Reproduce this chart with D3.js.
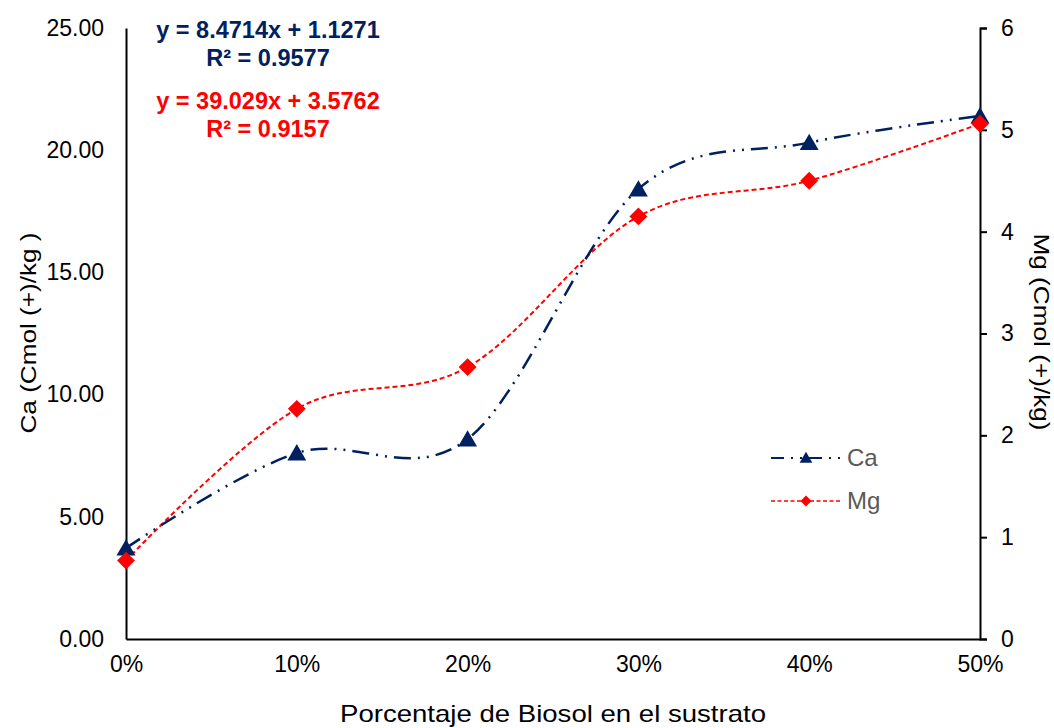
<!DOCTYPE html>
<html>
<head>
<meta charset="utf-8">
<script src="https://cdn.jsdelivr.net/npm/d3@7"></script>
<style>
  body { margin: 0; background: #fff; }
  text { font-family: "Liberation Sans", Arial, sans-serif; }
</style>
</head>
<body>
<div id="chart"></div>
<script>
const width = 1054,
  height = 728;

// data
const pct = [0, 10, 20, 30, 40, 50];
const ca = [3.72, 7.61, 8.18, 18.41, 20.31, 21.4];
const mg = [0.77, 2.26, 2.67, 4.15, 4.5, 5.06];
const leftTicks = [0, 5, 10, 15, 20, 25];
const rightTicks = [0, 1, 2, 3, 4, 5, 6];
const eqNavy = ["y = 8.4714x + 1.1271", "R² = 0.9577"];
const eqRed = ["y = 39.029x + 3.5762", "R² = 0.9157"];

const navy = "#002060",
  red = "#ff0000";

const margin = { left: 126, right: 74, top: 28, bottom: 89 };

const svg = d3.select("#chart").append("svg").attr("width", width).attr("height", height);

const x = d3.scaleLinear().domain([0, 50]).range([margin.left, width - margin.right]);
const yL = d3.scaleLinear().domain([0, 25]).range([height - margin.bottom, margin.top]);
const yR = d3.scaleLinear().domain([0, 6]).range([height - margin.bottom, margin.top]);

// axes
const gx = svg
  .append("g")
  .attr("transform", `translate(0,${height - margin.bottom})`)
  .call(d3.axisBottom(x).tickValues(pct).tickSize(0).tickPadding(17).tickFormat(d => d + "%"));

const gl = svg
  .append("g")
  .attr("transform", `translate(${margin.left},0)`)
  .call(d3.axisLeft(yL).tickValues(leftTicks).tickSize(0).tickPadding(22).tickFormat(d3.format(".2f")));

const gr = svg
  .append("g")
  .attr("transform", `translate(${width - margin.right},0)`)
  .call(d3.axisRight(yR).tickValues(rightTicks).tickSize(7).tickPadding(14).tickFormat(d3.format("d")));

[gx, gl, gr].forEach(g => {
  g.select(".domain").attr("stroke", "#000").attr("stroke-width", 2);
  g.selectAll(".tick line").attr("stroke", "#000").attr("stroke-width", 2);
  g.selectAll(".tick text").attr("font-size", 23).attr("fill", "#000").style("font-family", '"Liberation Sans", Arial, sans-serif');
});

// axis titles
svg
  .append("text")
  .attr("x", (margin.left + width - margin.right) / 2)
  .attr("y", 722)
  .attr("text-anchor", "middle")
  .attr("font-size", 24)
  .attr("textLength", 426)
  .attr("lengthAdjust", "spacingAndGlyphs")
  .text("Porcentaje de Biosol en el sustrato");

svg
  .append("text")
  .attr("transform", "translate(36,333) rotate(-90)")
  .attr("text-anchor", "middle")
  .attr("font-size", 22)
  .attr("textLength", 201)
  .attr("lengthAdjust", "spacingAndGlyphs")
  .text("Ca (Cmol (+)/kg )");

svg
  .append("text")
  .attr("transform", "translate(1034,332) rotate(90)")
  .attr("text-anchor", "middle")
  .attr("font-size", 22)
  .attr("textLength", 197)
  .attr("lengthAdjust", "spacingAndGlyphs")
  .text("Mg (Cmol (+)/kg)");

// lines
const curve = d3.curveCardinal.tension(0);

const lineCa = d3
  .line()
  .x((d, i) => x(pct[i]))
  .y(d => yL(d))
  .curve(curve);

const lineMg = d3
  .line()
  .x((d, i) => x(pct[i]))
  .y(d => yR(d))
  .curve(curve);

svg
  .append("path")
  .attr("d", lineMg(mg))
  .attr("fill", "none")
  .attr("stroke", red)
  .attr("stroke-width", 2)
  .attr("stroke-dasharray", "5 3");

svg
  .append("path")
  .attr("d", lineCa(ca))
  .attr("fill", "none")
  .attr("stroke", navy)
  .attr("stroke-width", 2.5)
  .attr("stroke-dasharray", "17 7 2 7 2 7");

// markers
const tri = d3.symbol().type(d3.symbolTriangle).size(155);
const diamond = d3.symbol().type(d3.symbolSquare).size(160);

svg
  .selectAll(".ca")
  .data(ca)
  .join("path")
  .attr("class", "ca")
  .attr("d", tri)
  .attr("transform", (d, i) => `translate(${x(pct[i])},${yL(d) + 2})`)
  .attr("fill", navy);

svg
  .selectAll(".mg")
  .data(mg)
  .join("path")
  .attr("class", "mg")
  .attr("d", diamond)
  .attr("transform", (d, i) => `translate(${x(pct[i])},${yR(d)}) rotate(45)`)
  .attr("fill", red);

// equations
const eq = svg.append("g").attr("font-weight", "bold").attr("font-size", 23.5).attr("text-anchor", "middle");
eq.selectAll(".n")
  .data(eqNavy)
  .join("text")
  .attr("x", 268)
  .attr("y", (d, i) => 38 + i * 28)
  .attr("fill", navy)
  .text(d => d);
eq.selectAll(".r")
  .data(eqRed)
  .join("text")
  .attr("x", 268)
  .attr("y", (d, i) => 109 + i * 28)
  .attr("fill", red)
  .text(d => d);

// legend
const legend = svg.append("g").attr("transform", "translate(771,458)");

legend
  .append("line")
  .attr("x1", 0)
  .attr("x2", 69)
  .attr("stroke", navy)
  .attr("stroke-width", 2)
  .attr("stroke-dasharray", "13 7 2 7 2 7");
legend.append("path").attr("d", d3.symbol().type(d3.symbolTriangle).size(70)).attr("transform", "translate(35,1)").attr("fill", navy);
legend.append("text").attr("x", 76).attr("y", 8).attr("font-size", 24).attr("fill", "#595959").text("Ca");

legend
  .append("line")
  .attr("x1", 0)
  .attr("x2", 69)
  .attr("y1", 43)
  .attr("y2", 43)
  .attr("stroke", red)
  .attr("stroke-width", 1.5)
  .attr("stroke-dasharray", "4 2.5");
legend.append("path").attr("d", d3.symbol().type(d3.symbolSquare).size(60)).attr("transform", "translate(35,43) rotate(45)").attr("fill", red);
legend.append("text").attr("x", 76).attr("y", 51).attr("font-size", 24).attr("fill", "#595959").text("Mg");
</script>
</body>
</html>
